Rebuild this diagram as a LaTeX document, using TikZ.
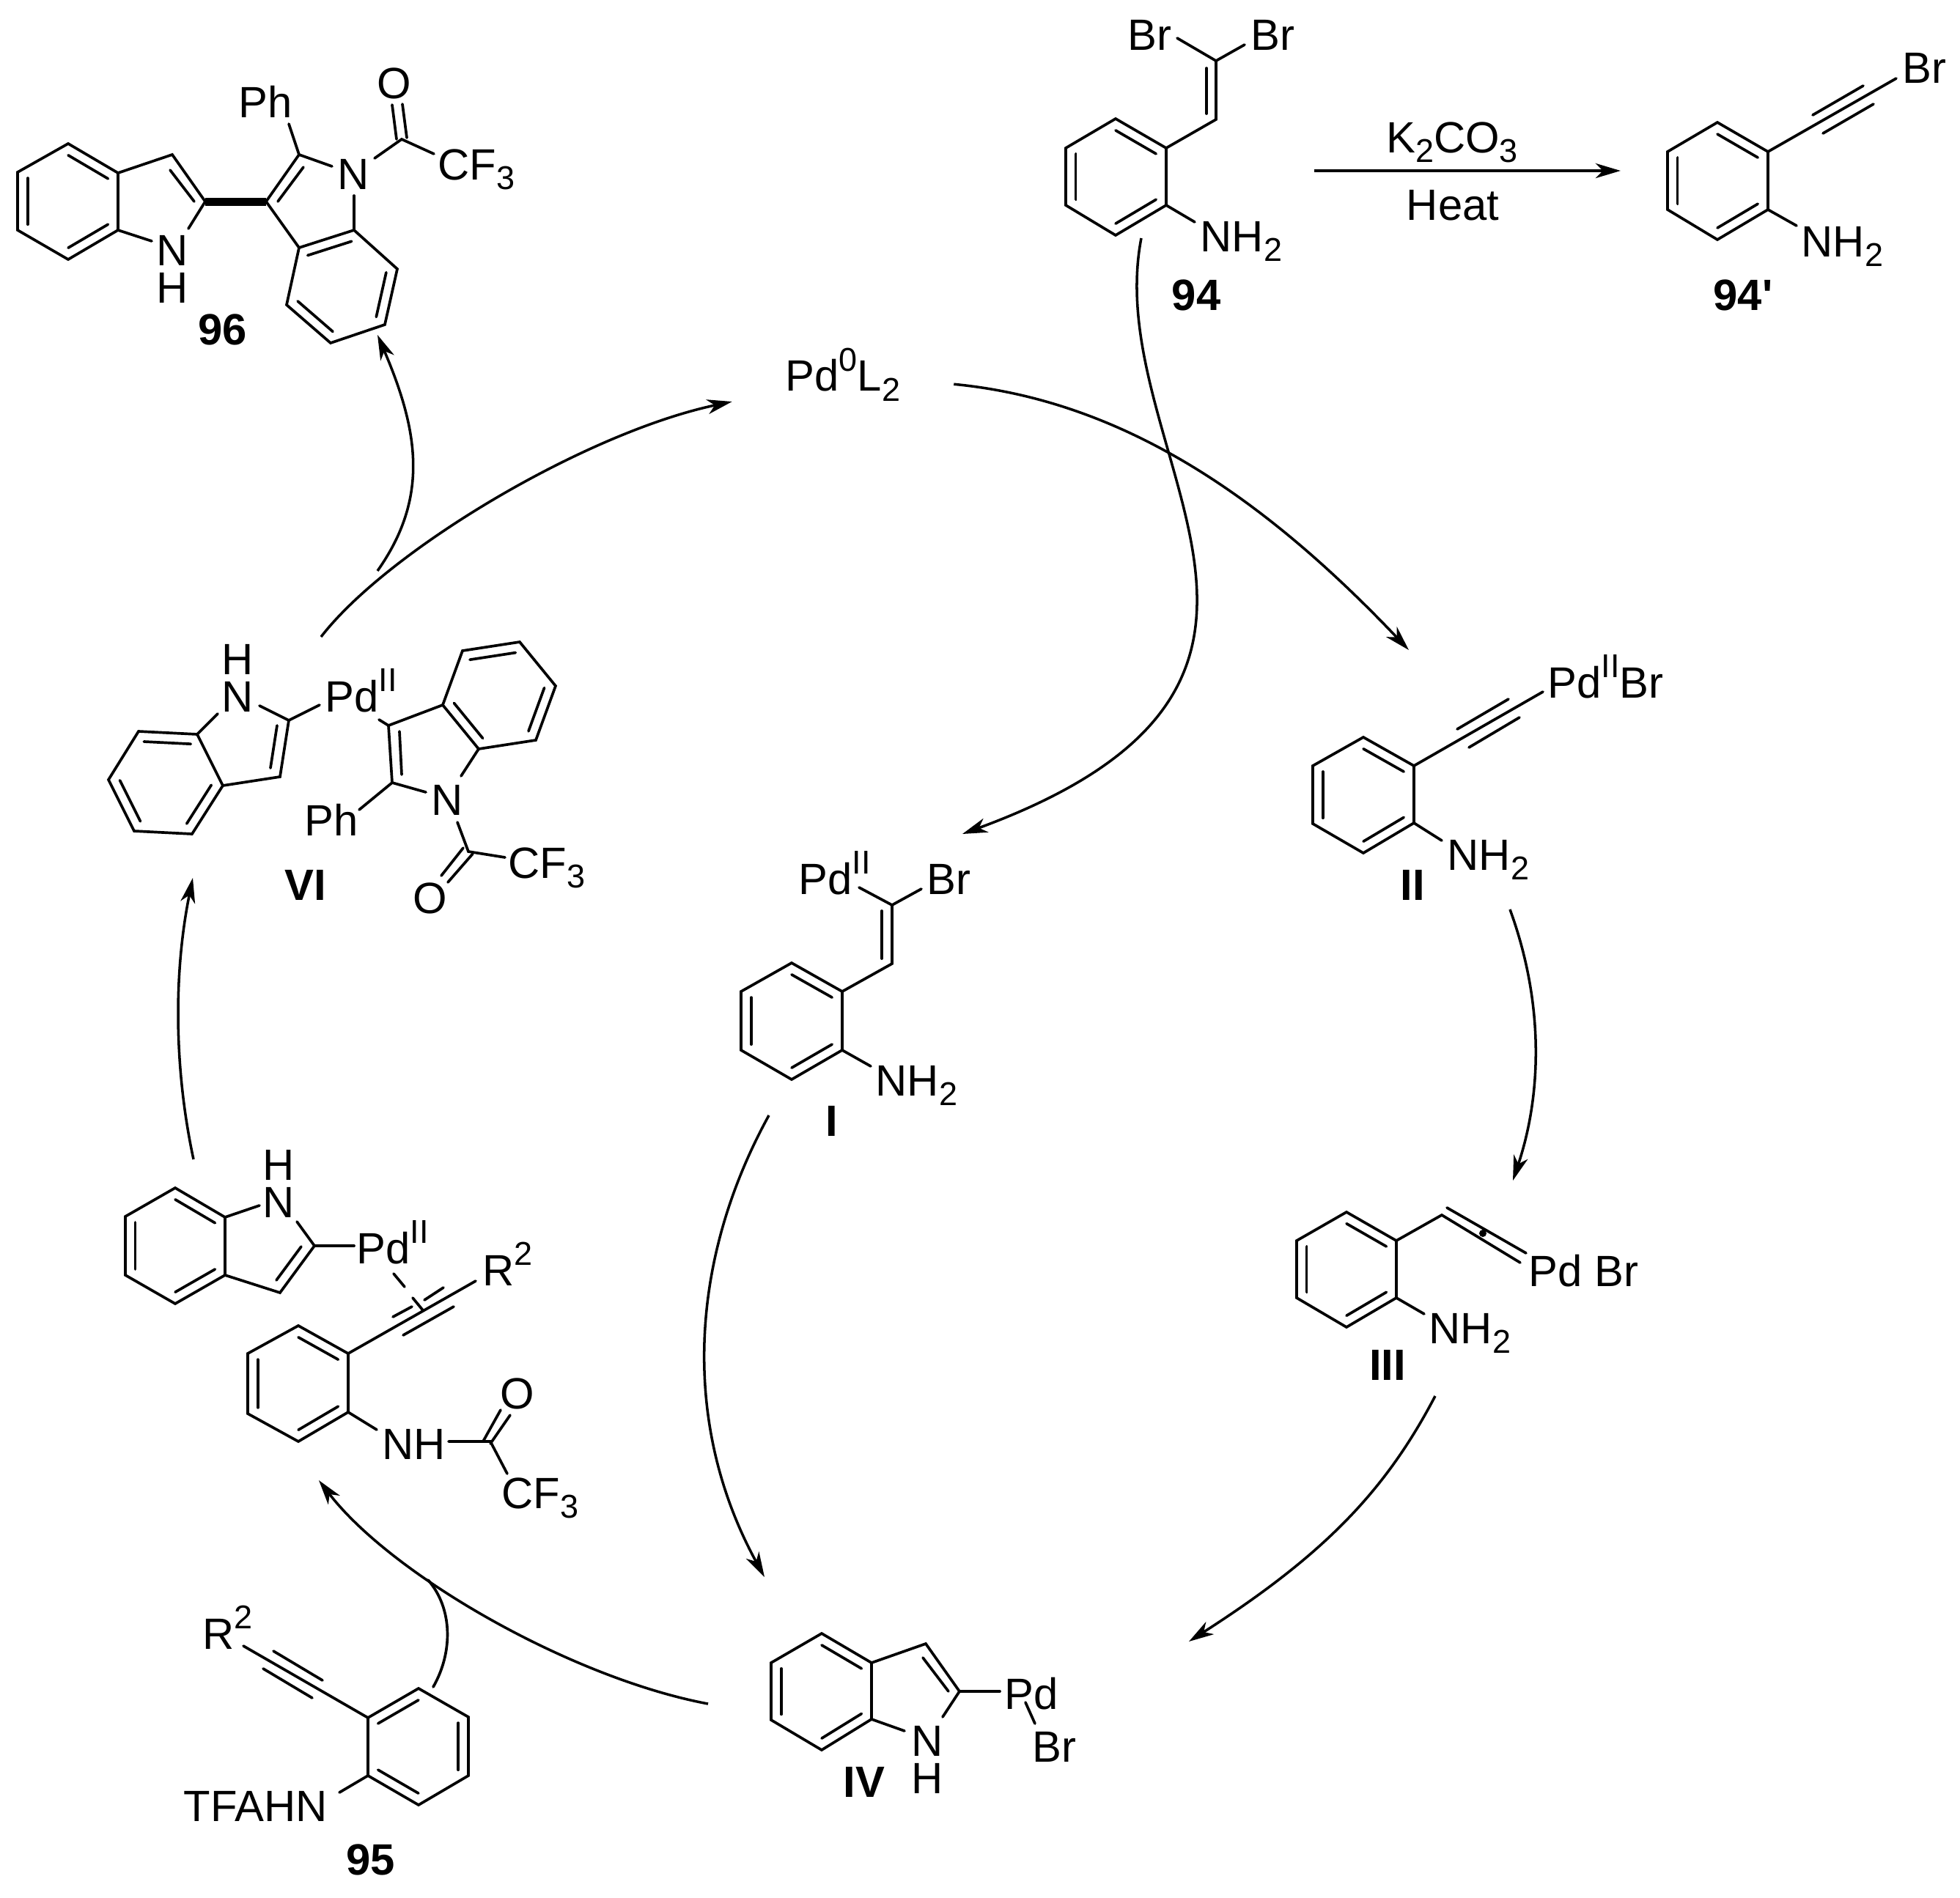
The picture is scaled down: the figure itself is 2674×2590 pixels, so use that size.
\documentclass[tikz,border=0pt]{standalone}
\usepackage{fontspec}
\setmainfont{Liberation Sans}
\usetikzlibrary{calc,arrows.meta,positioning}

\newcommand{\subs}[1]{\raisebox{-0.23em}{\fontsize{12.8}{14}\selectfont #1}}
\newcommand{\sups}[1]{\raisebox{0.46em}{\fontsize{12.8}{14}\selectfont #1}}

\begin{document}
\begin{tikzpicture}[x=0.01cm,y=-0.01cm]

  % Styles
  \tikzstyle{bond}=[line width=1.05pt,line cap=round]
  \tikzstyle{atom}=[inner sep=0pt,anchor=base west,font=\fontsize{17}{20}\selectfont]
  \tikzstyle{elem}=[atom,anchor=base]
  \tikzstyle{stack}=[atom,anchor=base,align=center,font=\fontsize{17}{14.5}\selectfont]
  \tikzstyle{cmpd}=[atom,anchor=base,font=\fontsize{17}{20}\selectfont\bfseries]
  \tikzstyle{to}=[-{Stealth[length=3.4mm,width=2mm,inset=1mm]},line width=1pt]

  % \atom{<id>}{<x,y>}{<label>}, \elem for letters centred on x, \cmpd for numbers
  \newcommand{\atom}[3]{node[atom] (#1) at (#2) {#3}}
  \newcommand{\elem}[3]{node[elem] (#1) at (#2) {#3}}
  \newcommand{\stack}[3]{node[stack] (#1) at (#2) {#3}}
  \newcommand{\cmpd}[3]{node[cmpd] (#1) at (#2) {#3}}

  % \ring{<v1>}...{<v6>}, inner double bonds on v1-v2, v3-v4, v5-v6
  \newcommand{\ring}[6]{
    \draw[bond] (#1) -- (#2) -- (#3) -- (#4) -- (#5) -- (#6) -- cycle;
    \coordinate (c) at ($(#1)!0.5!(#4)$);
    \draw[bond] ($(c)!0.8!(#1)$) -- ($(c)!0.8!(#2)$);
    \draw[bond] ($(c)!0.8!(#3)$) -- ($(c)!0.8!(#4)$);
    \draw[bond] ($(c)!0.8!(#5)$) -- ($(c)!0.8!(#6)$);
  }

  \useasboundingbox (0,0) rectangle (2674,2590);

  % ===========================================================================

  % 96
  \ring{93,196}{161,236}{161,314}{93,354}{24,314}{24,235}
  \ring{408,338}{483,314}{542,367}{525,443}{451,468}{391,416}
  \draw[bond] (161,236) -- (235,211) -- (280,275) -- (257,312);
  \draw[bond] (232,232) -- (265,275);
  \draw[bond] (161,314) -- (207,329);
  \draw[line width=0.11cm] (280,275) -- (363,275);
  \draw[bond] (408,338) -- (363,275) -- (408,211) -- (453,227);
  \draw[bond] (379,275) -- (414,228);
  \draw[bond] (408,211) -- (394,169);
  \draw[bond] (483,267) -- (483,314);
  \draw[bond] (511,216) -- (548,190) -- (592,210);
  \draw[bond] (535,143) -- (541,190);
  \draw[bond] (549,142) -- (555,188);
  \path \stack{n96a}{235,413}{N\\H};
  \path \atom{ph96}{325,160}{Ph};
  \path \elem{n96b}{482,258}{N};
  \path \elem{o96}{538,134}{O};
  \path \atom{cf96}{597,245}{CF\subs{3}};
  \path \cmpd{l96}{304,470}{96};

  % 94
  \ring{1522,162}{1591,202}{1591,280}{1522,321}{1454,280}{1454,202}
  \draw[bond] (1591,202) -- (1659,163) -- (1659,83);
  \draw[bond] (1646,155) -- (1646,93);
  \draw[bond] (1606,52) -- (1659,83) -- (1698,61);
  \draw[bond] (1591,280) -- (1630,303);
  \path \atom{br94a}{1538,68}{Br};
  \path \atom{br94b}{1706,68}{Br};
  \path \atom{nh94}{1637,343}{NH\subs{2}};
  \path \cmpd{l94}{1632,423}{94};

  % 94'
  \ring{2343,167}{2412,207}{2412,286}{2343,327}{2275,286}{2275,207}
  \draw[bond] (2412,207) -- (2587,107);
  \draw[bond] (2473,157) -- (2542,117);
  \draw[bond] (2487,182) -- (2556,142);
  \draw[bond] (2412,286) -- (2451,308);
  \path \atom{br94p}{2595,113}{Br};
  \path \atom{nh94p}{2457,350}{NH\subs{2}};
  \path \cmpd{l94p}{2378,423}{94\textquotesingle};

  % K2CO3 step
  \path \elem{base}{1981,208}{K\subs{2}CO\subs{3}};
  \path \elem{heat}{1982,300}{Heat};
  \coordinate (stepA) at (1793,233);
  \coordinate (stepB) at (2211,233);
  \draw[to,line width=1.4pt] (stepA) -- (stepB);

  % catalyst
  \node[inner sep=0pt,minimum width=3.01cm,font=\fontsize{17}{20}\selectfont] (pdl) at (1150,511) {Pd\sups{0}L\subs{2}};

  % II
  \ring{1860,1006}{1929,1045}{1929,1123}{1860,1164}{1791,1124}{1791,1045}
  \draw[bond] (1929,1045) -- (2105,944);
  \draw[bond] (1988,995) -- (2058,954);
  \draw[bond] (2004,1020) -- (2073,979);
  \draw[bond] (1929,1123) -- (1967,1147);
  \path \atom{pd2}{2111,952}{Pd\sups{II}Br};
  \path \atom{nh2}{1974,1187}{NH\subs{2}};
  \path \cmpd{l2}{1927,1228}{II};

  % I
  \ring{1080,1314}{1149,1353}{1149,1433}{1080,1473}{1011,1433}{1011,1353}
  \draw[bond] (1149,1353) -- (1217,1315) -- (1217,1235);
  \draw[bond] (1203,1308) -- (1203,1243);
  \draw[bond] (1172,1211) -- (1217,1235) -- (1257,1213);
  \draw[bond] (1149,1433) -- (1188,1455);
  \path \atom{pd1}{1089,1220}{Pd\sups{II}};
  \path \atom{br1}{1264,1220}{Br};
  \path \atom{nh1}{1194,1495}{NH\subs{2}};
  \path \cmpd{l1}{1135,1550}{I};

  % III
  \ring{1837,1654}{1905,1693}{1905,1771}{1837,1811}{1769,1771}{1769,1693}
  \draw[bond] (1905,1693) -- (1967,1658) -- (2074,1723);
  \draw[bond] (1974,1648) -- (2082,1710);
  \fill (2023,1683) circle (5);
  \draw[bond] (1905,1771) -- (1943,1793);
  \path \atom{pd3}{2085,1755}{Pd Br};
  \path \atom{nh3}{1949,1833}{NH\subs{2}};
  \path \cmpd{l3}{1893,1883}{III};

  % IV
  \ring{1121,2229}{1189,2269}{1189,2346}{1121,2388}{1052,2347}{1052,2269}
  \draw[bond] (1189,2269) -- (1263,2243) -- (1309,2308) -- (1286,2343);
  \draw[bond] (1259,2262) -- (1294,2308);
  \draw[bond] (1189,2346) -- (1234,2362);
  \draw[bond] (1309,2308) -- (1364,2308);
  \draw[bond] (1399,2323) -- (1412,2352);
  \path \stack{n4}{1265,2447}{N\\H};
  \path \atom{pd4}{1370,2332}{Pd};
  \path \atom{br4}{1408,2404}{Br};
  \path \cmpd{l4}{1179,2452}{IV};

  % 95
  \ring{502,2344}{571,2304}{639,2343}{639,2423}{571,2463}{502,2423}
  \draw[bond] (502,2344) -- (332,2246);
  \draw[bond] (373,2253) -- (440,2293);
  \draw[bond] (359,2277) -- (426,2317);
  \draw[bond] (502,2423) -- (463,2446);
  \path \atom{r95}{276,2250}{R\sups{2}};
  \path \atom{tfa95}{250,2485}{TFAHN};
  \path \cmpd{l95}{506,2558}{95};

  % alkyne complex
  \ring{239,1621}{307,1661}{307,1740}{239,1779}{171,1740}{171,1660}
  \ring{407,1809}{475,1847}{475,1927}{407,1967}{338,1929}{338,1847}
  \draw[bond] (307,1661) -- (354,1645);
  \draw[bond] (405,1667) -- (429,1700) -- (382,1764) -- (307,1740);
  \draw[bond] (411,1701) -- (377,1747);
  \draw[bond] (429,1700) -- (483,1700);
  \draw[bond] (537,1738) -- (552,1756);
  \draw[bond] (563,1771) -- (577,1788);
  \draw[bond] (475,1847) -- (649,1748);
  \draw[bond] (536,1797) -- (562,1783);
  \draw[bond] (579,1774) -- (605,1757);
  \draw[bond] (550,1822) -- (619,1783);
  \draw[bond] (475,1927) -- (514,1951);
  \draw[bond] (612,1967) -- (669,1967) -- (692,2011);
  \draw[bond] (659,1967) -- (683,1924);
  \draw[bond] (669,1970) -- (696,1931);
  \path \stack{n5}{380,1661}{H\\N};
  \path \atom{pd5}{486,1724}{Pd\sups{II}};
  \path \atom{r5}{658,1754}{R\sups{2}};
  \path \atom{nh5}{521,1991}{NH};
  \path \elem{o5}{706,1922}{O};
  \path \atom{cf5}{684,2058}{CF\subs{3}};

  % VI
  \ring{189,998}{269,1002}{304,1072}{262,1138}{183,1134}{148,1064}
  \ring{631,888}{709,876}{758,936}{731,1010}{653,1022}{604,962}
  \draw[bond] (269,1002) -- (297,974);
  \draw[bond] (354,963) -- (394,983) -- (382,1060) -- (304,1072);
  \draw[bond] (378,990) -- (369,1048);
  \draw[bond] (394,983) -- (436,962);
  \draw[bond] (517,982) -- (530,990) -- (604,962);
  \draw[bond] (530,990) -- (535,1068) -- (581,1081);
  \draw[bond] (545,998) -- (548,1057);
  \draw[bond] (629,1059) -- (653,1022);
  \draw[bond] (535,1068) -- (490,1105);
  \draw[bond] (624,1122) -- (639,1162) -- (689,1170);
  \draw[bond] (632,1157) -- (602,1195);
  \draw[bond] (645,1165) -- (611,1204);
  \path \stack{n6a}{324,971}{H\\N};
  \path \atom{pd6}{443,971}{Pd\sups{II}};
  \path \atom{ph6}{415,1140}{Ph};
  \path \elem{n6b}{610,1112}{N};
  \path \elem{o6}{587,1246}{O};
  \path \atom{cf6}{693,1198}{CF\subs{3}};
  \path \cmpd{l6}{417,1228}{VI};

  % Arrow ends
  \coordinate (from94) at (1557,325);
  \coordinate (into1) at (1313,1138);
  \coordinate (into2) at (1922,887);
  \coordinate (from2) at (2060,1241);
  \coordinate (into3) at (2064,1611);
  \coordinate (from3) at (1958,1905);
  \coordinate (into4a) at (1622,2240);
  \coordinate (from1) at (1049,1522);
  \coordinate (into4b) at (1043,2152);
  \coordinate (from4) at (966,2325);
  \coordinate (into5) at (435,2020);
  \coordinate (from95) at (591,2302);
  \coordinate (join95) at (584,2156);
  \coordinate (from5) at (264,1582);
  \coordinate (into6) at (263,1198);
  \coordinate (from6) at (438,869);
  \coordinate (join96) at (515,779);
  \coordinate (into96) at (515,457);

  % Draw arrows
  \draw[to] (pdl.-5) .. controls (1539,547) and (1732,687) .. (into2);
  \draw[to] (from94) .. controls (1500,620) and (1880,930) .. (into1);
  \draw[to] (from2) .. controls (2105,1364) and (2105,1488) .. (into3);
  \draw[to] (from3) .. controls (1890,2035) and (1806,2122) .. (into4a);
  \draw[to] (from1) .. controls (940,1720) and (929,1944) .. (into4b);
  \draw[to] (from4) .. controls (780,2290) and (535,2150) .. (into5);
  \draw[bond] (from95) .. controls (618,2255) and (618,2195) .. (join95);
  \draw[to] (from5) .. controls (237,1456) and (237,1326) .. (into6);
  \draw[to] (from6) .. controls (530,750) and (800,590) .. (pdl.south west);
  \draw[to] (join96) .. controls (585,680) and (572,590) .. (into96);

\end{tikzpicture}
\end{document}
